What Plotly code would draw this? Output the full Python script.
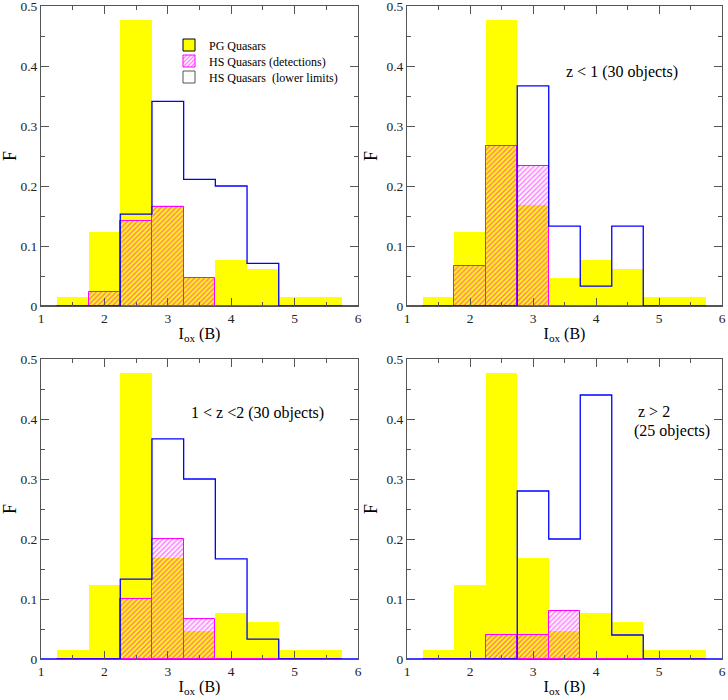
import plotly.graph_objects as go

# bin centres of I_ox (B) histogram (bin width 0.5)
bin_centers = [1.5, 2.0, 2.5, 3.0, 3.5, 4.0, 4.5, 5.0, 5.5]
bin_width = 0.5

# PG quasars (same in all panels)
pg = [0.015, 0.123, 0.477, 0.169, 0.046, 0.077, 0.062, 0.015, 0.015]

# HS quasars detections per panel
hs_det_all = [0.0, 0.023, 0.141, 0.165, 0.047, 0.0, 0.0, 0.0, 0.0]
hs_det_z1 = [0.0, 0.067, 0.267, 0.233, 0.0, 0.0, 0.0, 0.0, 0.0]
hs_det_z12 = [0.0, 0.0, 0.100, 0.200, 0.067, 0.0, 0.0, 0.0, 0.0]
hs_det_z2 = [0.0, 0.0, 0.040, 0.040, 0.080, 0.0, 0.0, 0.0, 0.0]

# HS quasars lower limits per panel
hs_lim_all = [0.0, 0.0, 0.153, 0.341, 0.211, 0.200, 0.071, 0.0, 0.0]
hs_lim_z1 = [0.0, 0.0, 0.0, 0.367, 0.133, 0.033, 0.133, 0.0, 0.0]
hs_lim_z12 = [0.0, 0.0, 0.133, 0.367, 0.300, 0.167, 0.033, 0.0, 0.0]
hs_lim_z2 = [0.0, 0.0, 0.0, 0.280, 0.200, 0.440, 0.040, 0.0, 0.0]

x_range = [1, 6]
y_range = [0, 0.5]
x_ticks = [1, 2, 3, 4, 5, 6]
y_ticks = [0, 0.1, 0.2, 0.3, 0.4, 0.5]
y_ticklabels = ["0", "0.1", "0.2", "0.3", "0.4", "0.5"]

legend_names = ["PG Quasars", "HS Quasars (detections)", "HS Quasars  (lower limits)"]

panels = [
    (hs_det_all, hs_lim_all),
    (hs_det_z1, hs_lim_z1),
    (hs_det_z12, hs_lim_z12),
    (hs_det_z2, hs_lim_z2),
]

YELLOW = "#ffff00"
MAGENTA = "#ff00ff"
BLUE = "#0000ff"
SERIF = "Liberation Serif"
AXC = "#555555"

# domains in paper coords
W_PLOT = 681.0
H_PLOT = 653.0
xdoms = [[0, 317 / W_PLOT], [366 / W_PLOT, 1]]
ydoms = [[353 / H_PLOT, 1], [0, 300 / H_PLOT]]

fig = go.Figure()

left_edges = [c - bin_width / 2 for c in bin_centers]

hatch = dict(shape="/", fgcolor=MAGENTA, bgcolor="rgba(0,0,0,0)", size=3.5, solidity=0.45)

for i, (det, lim) in enumerate(panels):
    n = i + 1
    xa = "x" if n == 1 else f"x{n}"
    ya = "y" if n == 1 else f"y{n}"
    fig.add_trace(go.Bar(
        x=bin_centers, y=pg, width=bin_width, xaxis=xa, yaxis=ya,
        marker=dict(color=YELLOW, line=dict(width=0)), showlegend=False,
        hoverinfo="skip"))
    step_x = [x_range[0]] + left_edges + [left_edges[-1] + bin_width, x_range[1]]
    step_y = [0] + list(lim) + [0, 0]
    fig.add_trace(go.Scatter(
        x=step_x, y=step_y, mode="lines", line=dict(color=BLUE, width=1.3, shape="hv"),
        xaxis=xa, yaxis=ya, showlegend=False, hoverinfo="skip"))
    fig.add_trace(go.Bar(
        x=bin_centers, y=det, width=bin_width, xaxis=xa, yaxis=ya,
        marker=dict(color="rgba(0,0,0,0)", pattern=hatch,
                    line=dict(color=MAGENTA, width=1)),
        showlegend=False, hoverinfo="skip"))

# legend-only entries (each in its own legend box so the rows sit where the reference has them)
fig.add_trace(go.Bar(x=[None], y=[None], name=legend_names[0], legend="legend",
                     marker=dict(color=YELLOW, line=dict(color="black", width=1))))
fig.add_trace(go.Bar(x=[None], y=[None], name=legend_names[1], legend="legend2",
                     marker=dict(color="white",
                                 pattern=dict(shape="/", fgcolor=MAGENTA, bgcolor="white",
                                              size=3.5, solidity=0.45),
                                 line=dict(color=MAGENTA, width=1))))
fig.add_trace(go.Bar(x=[None], y=[None], name=legend_names[2], legend="legend3",
                     marker=dict(color="white", line=dict(color="#555555", width=1))))

axis_common = dict(showline=True, linecolor=AXC, linewidth=1, mirror="ticks",
                   ticks="inside", ticklen=8, tickcolor=AXC, tickwidth=1,
                   showgrid=False, zeroline=False, automargin=False,
                   ticklabeloverflow="allow",
                   tickfont=dict(family=SERIF, size=13.5, color="#222"))

def leg(py):
    return dict(x=(169 - 41) / W_PLOT, y=(659 - py) / H_PLOT, xanchor="left", yanchor="middle",
                bgcolor="rgba(0,0,0,0)", font=dict(family=SERIF, size=12, color="black"),
                borderwidth=0)

layout = dict(
    width=728, height=700,
    margin=dict(l=41, r=6, t=6, b=41, autoexpand=False),
    paper_bgcolor="white", plot_bgcolor="white",
    barmode="overlay", bargap=0,
    showlegend=True,
    legend=leg(45), legend2=leg(61), legend3=leg(77),
    font=dict(family=SERIF, color="black"),
)

for i in range(4):
    n = i + 1
    suffix = "" if n == 1 else str(n)
    xd = xdoms[i % 2]
    yd = ydoms[i // 2]
    layout[f"xaxis{suffix}"] = dict(
        domain=xd, range=x_range, tickvals=x_ticks, anchor=f"y{suffix}",
        minor=dict(dtick=0.5, tick0=1, ticks="inside", ticklen=4, tickcolor=AXC),
        title=dict(text="I<sub>ox</sub> (B)", font=dict(family=SERIF, size=16), standoff=2),
        **axis_common)
    layout[f"yaxis{suffix}"] = dict(
        domain=yd, range=y_range, tickvals=y_ticks, ticktext=y_ticklabels, anchor=f"x{suffix}",
        minor=dict(dtick=0.05, tick0=0, ticks="inside", ticklen=4, tickcolor=AXC),
        title=dict(text="F", font=dict(family=SERIF, size=18), standoff=4),
        **axis_common)

fig.update_layout(**layout)

ann_font = dict(family=SERIF, size=16, color="black")
fig.add_annotation(x=4.41, y=0.39, xref="x2", yref="y2", text="z < 1 (30 objects)",
                   showarrow=False, font=ann_font)
fig.add_annotation(x=4.42, y=0.41, xref="x3", yref="y3", text="1 < z <2 (30 objects)",
                   showarrow=False, font=ann_font)
fig.add_annotation(x=4.63, y=0.412, xref="x4", yref="y4", text="z > 2", xanchor="left",
                   showarrow=False, font=ann_font)
fig.add_annotation(x=4.57, y=0.38, xref="x4", yref="y4", text="(25 objects)", xanchor="left",
                   showarrow=False, font=ann_font)

fig.write_html("out.html", config={"displayModeBar": False},
               post_script="document.body.style.margin='0';document.body.style.padding='0';")
